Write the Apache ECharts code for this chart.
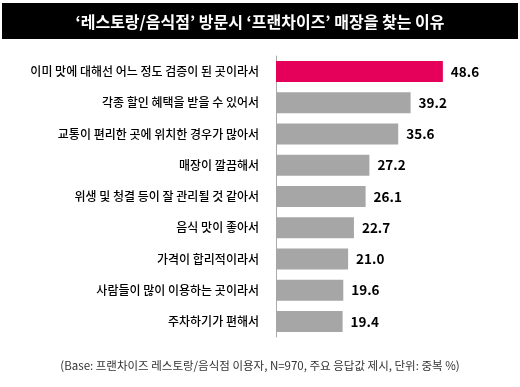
<!DOCTYPE html>
<html><head><meta charset="utf-8">
<script src="https://cdn.jsdelivr.net/npm/echarts@6/dist/echarts.min.js"></script>
<style>html,body{margin:0;padding:0;background:#fff}#c{width:520px;height:387px}</style>
</head><body><div id="c"></div>
<script>
const categories = [
  '이미 맛에 대해선 어느 정도 검증이 된 곳이라서',
  '각종 할인 혜택을 받을 수 있어서',
  '교통이 편리한 곳에 위치한 경우가 많아서',
  '매장이 깔끔해서',
  '위생 및 청결 등이 잘 관리될 것 같아서',
  '음식 맛이 좋아서',
  '가격이 합리적이라서',
  '사람들이 많이 이용하는 곳이라서',
  '주차하기가 편해서'
];
const values = [48.6, 39.2, 35.6, 27.2, 26.1, 22.7, 21.0, 19.6, 19.4];
const titleText = '‘레스토랑/음식점’ 방문시 ‘프랜차이즈’ 매장을 찾는 이유';
const noteText = '(Base: 프랜차이즈 레스토랑/음식점 이용자, N=970, 주요 응답값 제시, 단위: 중복 %)';

const FONT = '"Noto Sans CJK KR", "Noto Sans", sans-serif';
const chart = echarts.init(document.getElementById('c'));
chart.setOption({
  animation: false,
  textStyle: { fontFamily: FONT },
  graphic: [{ type: 'rect', z: 0, shape: { x: 2, y: 3, width: 516, height: 36 }, style: { fill: '#000' } }],
  title: [
    { text: titleText, left: 'center', top: 9, z: 10,
      textStyle: { color: '#fff', fontSize: 16, fontWeight: 'bold', fontFamily: FONT } },
    { text: noteText, left: 'center', top: 355,
      textStyle: { color: '#333', fontSize: 11.5, fontWeight: 'normal', fontFamily: FONT } }
  ],
  grid: { left: 276, right: 38, top: 56, height: 281, containLabel: false },
  xAxis: { type: 'value', min: 0, max: 60, show: false },
  yAxis: {
    type: 'category', data: categories, inverse: true,
    axisLine: { show: true, lineStyle: { color: '#aaa', width: 1 } },
    axisTick: { show: false },
    axisLabel: { color: '#000', fontSize: 12, fontWeight: 500, margin: 17, fontFamily: FONT }
  },
  series: [{
    type: 'bar', data: values.map((v, i) => ({ value: v, itemStyle: { color: i === 0 ? '#e5005a' : '#a6a6a6' } })),
    barWidth: 21,
    label: { show: true, position: 'right', distance: 8, color: '#000', fontSize: 13.5, fontWeight: 'bold',
      fontFamily: FONT, formatter: p => p.value.toFixed(1) }
  }]
});
</script></body></html>
